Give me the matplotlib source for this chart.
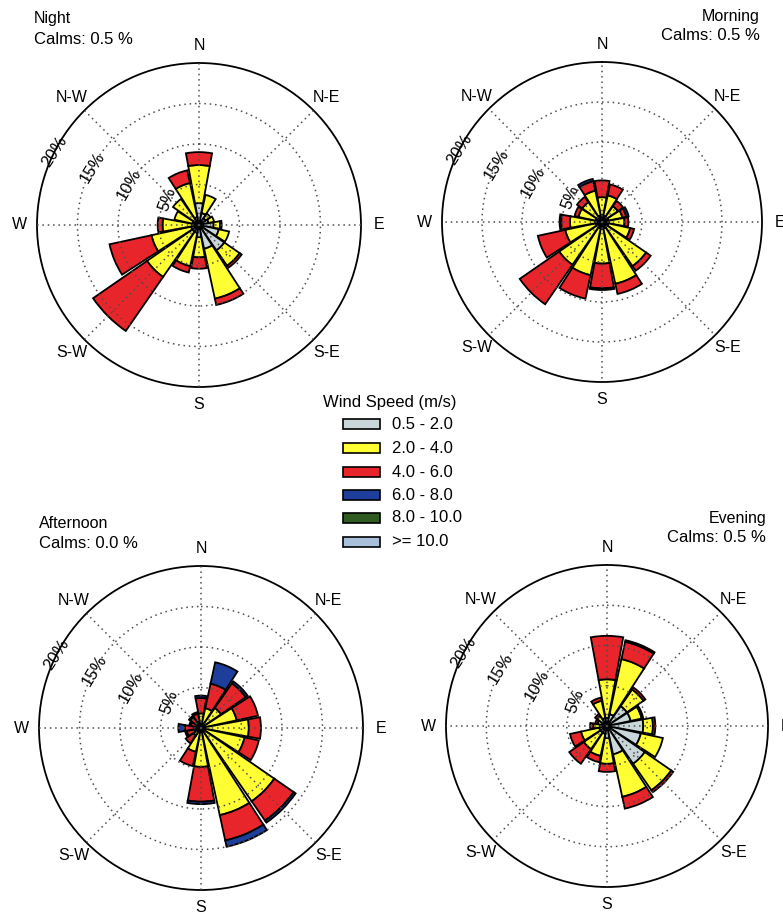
import numpy as np
import matplotlib
matplotlib.use('Agg')
import matplotlib.pyplot as plt
from matplotlib.patches import Rectangle

plt.rcParams['font.family'] = ['Liberation Sans', 'DejaVu Sans']

# 16 directions, clockwise from north
directions = ['N', 'NNE', 'NE', 'ENE', 'E', 'ESE', 'SE', 'SSE',
              'S', 'SSW', 'SW', 'WSW', 'W', 'WNW', 'NW', 'NNW']
bearings = np.arange(16) * 22.5

speed_bins = ['0.5 - 2.0', '2.0 - 4.0', '4.0 - 6.0', '6.0 - 8.0', '8.0 - 10.0', '>= 10.0']
bin_colors = ['#c9d7da', '#ffff33', '#e8252a', '#1d3f9b', '#2f5a20', '#a8c0da']

# frequency (%) per direction for each speed bin
night_b1 = [2.7, 1.5, 1.0, 1.2, 1.8, 2.5, 3.8, 3.0, 1.5, 1.0, 1.0, 1.0, 0.8, 0.8, 0.8, 1.0]
night_b2 = [4.7, 2.3, 0.7, 0.7, 0.8, 1.3, 2.3, 6.3, 2.5, 4.2, 6.8, 5.0, 3.7, 2.3, 3.1, 4.3]
night_b3 = [1.6, 0.0, 0.0, 0.0, 0.2, 0.0, 0.3, 0.8, 1.4, 0.8, 8.1, 5.3, 0.6, 0.0, 0.0, 1.6]
night_b4 = [0.0] * 16

morning_b1 = [0.8] * 16
morning_b2 = [2.3, 2.6, 1.6, 1.8, 2.0, 2.8, 5.9, 7.1, 4.4, 6.0, 5.7, 3.9, 3.2, 2.2, 2.2, 3.2]
morning_b3 = [2.1, 1.4, 0.8, 0.5, 0.5, 0.5, 0.7, 1.3, 3.1, 3.0, 6.0, 3.5, 1.1, 0.5, 0.8, 1.2]
morning_b4 = [0.0, 0.0, 0.0, 0.3, 0.0, 0.0, 0.0, 0.0, 0.2, 0.0, 0.0, 0.0, 0.2, 0.0, 0.0, 0.3]

afternoon_b1 = [0.3] * 16
afternoon_b2 = [1.5, 2.2, 2.7, 4.2, 5.6, 5.2, 10.7, 10.7, 4.5, 2.7, 0.8, 0.5, 0.5, 0.0, 0.3, 0.5]
afternoon_b3 = [1.9, 3.1, 3.7, 2.7, 1.5, 1.8, 2.9, 3.2, 4.3, 1.8, 1.2, 1.0, 1.2, 1.0, 1.0, 1.0]
afternoon_b4 = [0.3, 2.7, 0.3, 0.0, 0.0, 0.0, 0.3, 0.8, 0.3, 0.0, 0.0, 0.2, 0.8, 0.2, 0.2, 0.2]

evening_b1 = [1.0, 1.5, 3.0, 3.0, 4.5, 4.3, 5.7, 3.6, 1.5, 1.0, 1.0, 1.0, 0.8, 0.7, 0.7, 1.0]
evening_b2 = [4.8, 7.0, 2.5, 1.4, 1.2, 2.8, 4.0, 5.4, 3.2, 2.8, 2.5, 2.3, 0.9, 0.5, 0.8, 2.2]
evening_b3 = [5.4, 2.2, 0.3, 0.2, 0.3, 0.0, 0.3, 1.5, 1.0, 0.8, 2.2, 1.4, 0.4, 0.3, 0.3, 0.4]
evening_b4 = [0.0, 0.2, 0.0, 0.0, 0.0, 0.0, 0.0, 0.0, 0.0, 0.0, 0.0, 0.0, 0.0, 0.0, 0.0, 0.0]

no_wind = [0.0] * 16  # 8-10 and >=10 m/s never occur

panel_names = ['Night', 'Morning', 'Afternoon', 'Evening']
calms = ['Calms: 0.5 %', 'Calms: 0.5 %', 'Calms: 0.0 %', 'Calms: 0.5 %']

W, H = 783, 913

def frac(x, y):
    return x / W, 1 - y / H

panels = [
    (night_b1, night_b2, night_b3, night_b4, no_wind, no_wind),
    (morning_b1, morning_b2, morning_b3, morning_b4, no_wind, no_wind),
    (afternoon_b1, afternoon_b2, afternoon_b3, afternoon_b4, no_wind, no_wind),
    (evening_b1, evening_b2, evening_b3, evening_b4, no_wind, no_wind),
]
# centre (px) and radius (px) of each rose
centres = [(199, 225, 162), (602, 222, 160), (201, 728, 162), (607, 726, 161)]
# title positions (px): x, y of first line, alignment
title_pos = [(34, 19, 'left'), (760, 16, 'right'), (39, 523, 'left'), (766, 518, 'right')]

fig = plt.figure(figsize=(W / 100, H / 100), dpi=100)

theta = np.radians(bearings)
width = np.radians(22.5) * 0.92
ring_th = np.linspace(0, 2 * np.pi, 400)
dots = (0, (1, 2.5))

for k, bins in enumerate(panels):
    cx, cy, r = centres[k]
    ax = fig.add_axes([(cx - r) / W, 1 - (cy + r) / H, 2 * r / W, 2 * r / H],
                      projection='polar')
    ax.set_theta_zero_location('N')
    ax.set_theta_direction(-1)
    ax.set_ylim(0, 20)
    ax.grid(False)
    ax.set_xticks([])
    ax.set_yticks([])
    ax.spines['polar'].set_linewidth(1.3)

    bottom = np.zeros(16)
    for vals, col in zip(bins, bin_colors):
        vals = np.array(vals)
        m = vals > 0
        if m.any():
            ax.bar(theta[m], vals[m], width=width, bottom=bottom[m], color=col,
                   edgecolor='black', linewidth=1.3, zorder=2)
        bottom += vals

    # dotted grid on top of the petals
    for rr in (5, 10, 15):
        ax.plot(ring_th, np.full_like(ring_th, rr), ls=dots, color='0.3', lw=1.1, zorder=3)
    for b in range(0, 360, 45):
        ax.plot([np.radians(b)] * 2, [0, 20], ls=dots, color='0.3', lw=1.1, zorder=3)
    ax.plot(ring_th, np.full_like(ring_th, 0.4), color='black', lw=2.5, zorder=3)

    # ring labels
    for rr, brg in zip((5, 10, 15, 20), (309, 300, 298.5, 297)):
        ax.text(np.radians(brg), rr, f'{rr}%', rotation=brg - 240, ha='center',
                va='center', fontsize=12, zorder=4)

    # compass labels
    for lab, brg in zip(['N', 'N-E', 'E', 'S-E', 'S', 'S-W', 'W', 'N-W'], range(0, 360, 45)):
        ax.text(np.radians(brg), 22.2, lab, ha='center', va='center',
                fontsize=11.5, clip_on=False)

    tx, ty, ha = title_pos[k]
    fig.text(*frac(tx, ty), panel_names[k], ha=ha, va='center', fontsize=11.5)
    fig.text(*frac(tx, ty + 20), calms[k], ha=ha, va='center', fontsize=12)

# legend
fig.text(*frac(390, 402), 'Wind Speed (m/s)', ha='center', va='center', fontsize=12)
row_y = [424, 448, 472, 495, 518, 542]
for lab, col, y in zip(speed_bins, bin_colors, row_y):
    x0, y0 = frac(343, y + 5)
    fig.patches.append(Rectangle((x0, y0), 37 / W, 10 / H, transform=fig.transFigure,
                                 facecolor=col, edgecolor='black', lw=1.2))
    fig.text(*frac(392, y), lab, ha='left', va='center', fontsize=12)

fig.savefig('out.png', dpi=100)
